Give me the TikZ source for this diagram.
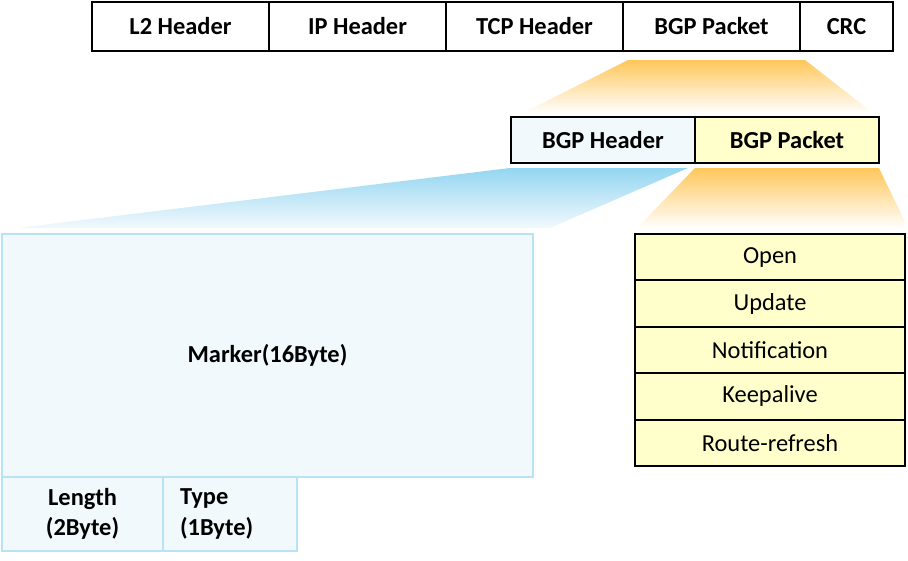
\documentclass[tikz,border=0pt]{standalone}
\usepackage{fontspec}
\setmainfont{Carlito}
\usepackage{tikz}

\definecolor{hdrblue}{HTML}{F2F9FD}
\definecolor{hdrline}{HTML}{B7E3F4}
\definecolor{skyblue}{HTML}{94D6F1}
\definecolor{pktyellow}{HTML}{FFFFCC}
\definecolor{fanorange}{HTML}{FFC75A}

\begin{document}
\begin{tikzpicture}[line width=1.1pt, font=\fontsize{13.9}{16}\selectfont,
    cell/.style = {draw, outer sep=0pt, minimum height=0.98cm, font=\fontsize{13.9}{16}\selectfont\bfseries},
    half/.style = {draw, outer sep=0pt, minimum width=3.68cm, minimum height=0.92cm, font=\fontsize{13.9}{16}\selectfont\bfseries},
    field/.style = {draw=hdrline, fill=hdrblue, outer sep=0pt, font=\fontsize{13.9}{17.2}\selectfont\bfseries},
    msg/.style = {draw, fill=pktyellow, outer sep=0pt, minimum width=5.4cm, minimum height=0.928cm}]
    \useasboundingbox (0,0) rectangle (18.16,-11.2);

% fans
    \shade[top color=fanorange, bottom color=white, draw=none]
        (12.56,-1.2) -- (16.1,-1.2) -- (17.46,-2.26) -- (10.46,-2.26) -- cycle;
    \shade[top color=skyblue, bottom color=hdrblue, draw=none]
        (10.2,-3.36) -- (13.76,-3.36) -- (11.0,-4.56) -- (0.34,-4.56) -- cycle;
    \shade[top color=fanorange, bottom color=white, draw=none]
        (13.9,-3.36) -- (17.58,-3.36) -- (18.16,-4.56) -- (12.74,-4.56) -- cycle;

% frame
    \node[cell, minimum width=3.54cm] (l2) at (3.61,-0.53) {L2 Header};
    \node[cell, minimum width=3.54cm] (ip) at (7.15,-0.53) {IP Header};
    \node[cell, minimum width=3.54cm] (tcp) at (10.69,-0.53) {TCP Header};
    \node[cell, minimum width=3.54cm] (bgp) at (14.23,-0.53) {BGP Packet};
    \node[cell, minimum width=1.86cm] (crc) at (16.93,-0.53) {CRC};

% BGP packet
    \node[half, fill=hdrblue] (hdr) at (12.06,-2.8) {BGP Header};
    \node[half, fill=pktyellow] (body) at (15.74,-2.8) {BGP Packet};

% header fields
    \node[field, minimum width=10.62cm, minimum height=4.86cm] (marker) at (5.35,-7.11) {Marker(16Byte)};
    \node[field, minimum width=3.22cm, minimum height=1.48cm, text width=2.5cm, align=center] (len) at (1.65,-10.28) {Length\\(2Byte)};
    \node[field, minimum width=2.68cm, minimum height=1.48cm, inner xsep=0.34cm, text width=2.0cm, align=left] (type) at (4.6,-10.28) {Type\\(1Byte)};

% message types
    \node[msg] (open) at (15.4,-5.144) {Open};
    \node[msg] (update) at (15.4,-6.072) {Update};
    \node[msg] (notif) at (15.4,-7.0) {Notification};
    \node[msg] (keep) at (15.4,-7.928) {Keepalive};
    \node[msg] (refresh) at (15.4,-8.856) {Route-refresh};
\end{tikzpicture}
\end{document}
